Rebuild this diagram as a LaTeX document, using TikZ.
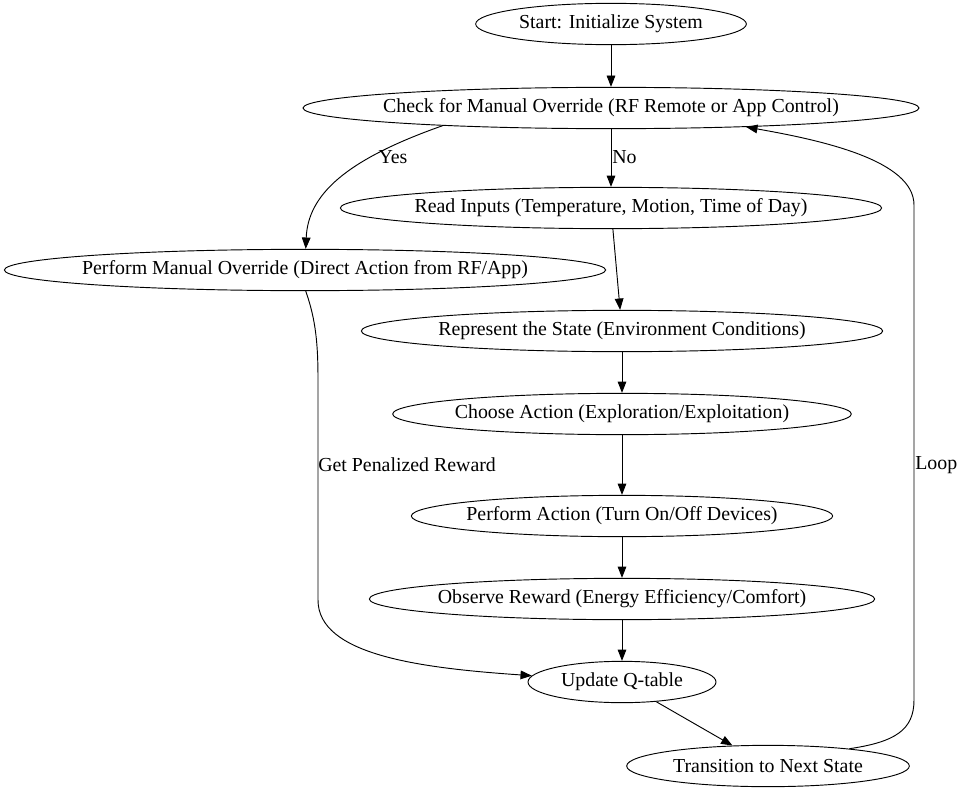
\documentclass[tikz,border=0pt]{standalone}
\usepackage{fontspec}
\setmainfont{Liberation Serif}
\usetikzlibrary{shapes.geometric,arrows.meta}

\begin{document}
\begin{tikzpicture}[x=0.75pt, y=-0.75pt,
		state/.style={ellipse, draw, black, line width=0.7pt, inner sep=0pt, minimum height=31pt, font=\fontsize{14.9}{17}\selectfont},
		arr/.style={-{Triangle[length=8.5pt, width=6.5pt]}, line width=0.7pt},
		lbl/.style={font=\fontsize{14.9}{17}\selectfont, inner sep=0pt}]
		\useasboundingbox (0, 0) rectangle (960, 792);

		% states
		\node[state, minimum width=203pt]	(start)		at (611, 24)	{\makebox[0pt]{Start: Initialize System}};
		\node[state, minimum width=462pt]	(check)		at (611, 108)	{\makebox[0pt]{Check for Manual Override (RF Remote or App Control)}};
		\node[state, minimum width=406pt]	(read)		at (611, 208)	{\makebox[0pt]{Read Inputs (Temperature, Motion, Time of Day)}};
		\node[state, minimum width=451pt]	(manual)	at (305, 270)	{\makebox[0pt]{Perform Manual Override (Direct Action from RF/App)}};
		\node[state, minimum width=391pt]	(represent)	at (622, 331)	{\makebox[0pt]{Represent the State (Environment Conditions)}};
		\node[state, minimum width=344pt]	(choose)	at (622, 414)	{\makebox[0pt]{Choose Action (Exploration/Exploitation)}};
		\node[state, minimum width=316pt]	(act)		at (622, 516)	{\makebox[0pt]{Perform Action (Turn On/Off Devices)}};
		\node[state, minimum width=379pt]	(observe)	at (622, 599)	{\makebox[0pt]{Observe Reward (Energy Efficiency/Comfort)}};
		\node[state, minimum width=141pt]	(update)	at (622, 682)	{\makebox[0pt]{Update Q-table}};
		\node[state, minimum width=212pt]	(next)		at (768, 766)	{\makebox[0pt]{Transition to Next State}};

		% straight edges
		\draw[arr]	(start) -- (check);
		\draw[arr]	(check) -- (read);
		\draw[arr]	(read) -- (represent);
		\draw[arr]	(represent) -- (choose);
		\draw[arr]	(choose) -- (act);
		\draw[arr]	(act) -- (observe);
		\draw[arr]	(observe) -- (update);
		\draw[arr]	(update) -- (next);

		% curved edges
		\draw[arr]	(check.186) .. controls (345, 160) and (308, 195) .. (manual.88);
		\draw[arr]	(manual.-88) .. controls (316, 320) and (318, 345) .. (318, 380)
					-- (318, 600) .. controls (318, 655) and (420, 668) .. (update.176);
		\draw[arr]	(next.12) .. controls (895, 742) and (914, 730) .. (914, 700)
					-- (914, 205) .. controls (914, 160) and (820, 140) .. (check.-8);

		% labels
		\node[lbl]			(yes)		at (393, 157)	{Yes};
		\node[lbl, anchor=west]	(no)		at (612, 157)	{No};
		\node[lbl, anchor=west]	(penalty)	at (318, 465)	{Get Penalized Reward};
		\node[lbl, anchor=west]	(loop)		at (915, 465)	{Loop};
	\end{tikzpicture}
\end{document}
